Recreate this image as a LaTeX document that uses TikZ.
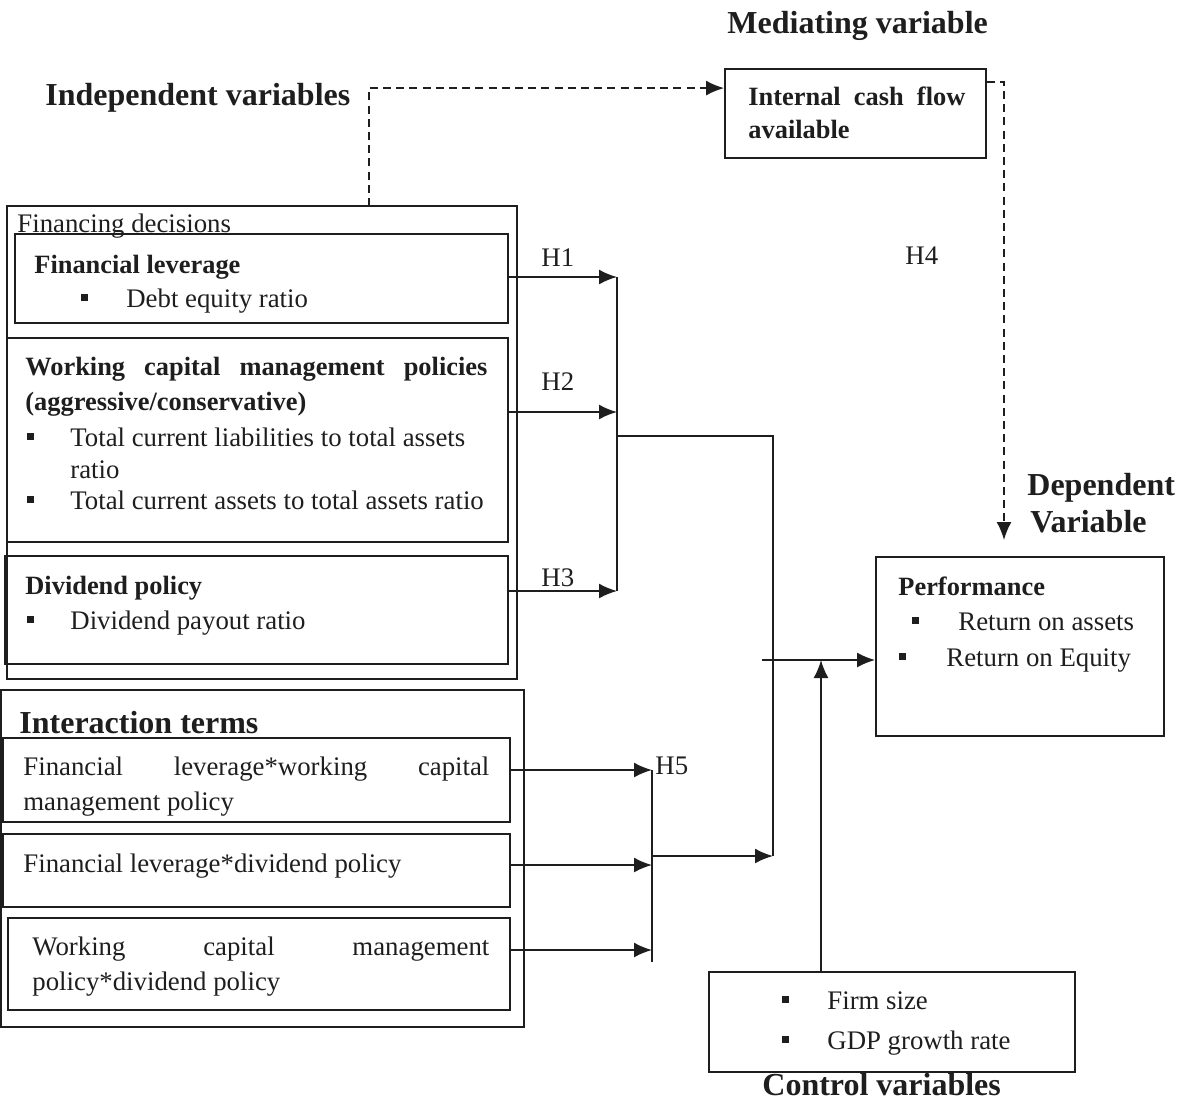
\documentclass[tikz,border=0pt]{standalone}
\usepackage{fontspec}
\setmainfont{Liberation Serif}
\usetikzlibrary{arrows.meta}
\usetikzlibrary{calc}
\usetikzlibrary{fit}
\definecolor{ink}{HTML}{1E1E1E}
\newcommand{\sqb}{\rule[3.2pt]{3.5pt}{3.5pt}}
\newcommand{\bul}[2][21.5pt]{\makebox[#1][l]{\sqb}#2}

\begin{document}
\begin{tikzpicture}[x=0.5pt, y=-0.5pt,
every node/.style = {color=ink},
box/.style = {draw=ink, line width=0.9pt, inner sep=0pt, fit={#1}},
txt/.style = {anchor=base west, inner sep=0pt, font=\fontsize{13.4}{17}\selectfont},
head/.style = {txt, font=\fontsize{13.2}{17}\selectfont\bfseries},
title/.style = {txt, font=\fontsize{16}{20}\selectfont\bfseries},
link/.style = {draw=ink, line width=0.9pt},
flow/.style = {link, -{Latex[length=9pt, width=7.5pt]}},
mediate/.style = {flow, dash pattern=on 4pt off 2.6pt}
]
\useasboundingbox (0,0) rectangle (1178,1104);

\node [title] (medt) at (727,33) {Mediating variable};
\node [title] (indt) at (45,105) {Independent variables};
\node [title] (dept) at (1027,495) {Dependent};
\node [title] (dept2) at (1030,532) {Variable};
\node [title] (ctrlt) at (762,1095) {Control variables};

\node [box={(725,69) (986,158)}] (cash) {};
\node [head] (cash1) at (748,105) {\makebox[108.5pt][s]{Internal cash flow}};
\node [head] (cash2) at (748,138) {available};

\node [box={(7,206) (517,679)}] (fin) {};
\node [txt] (fint) at (17,232) {Financing decisions};

\node [box={(15,234) (508,323)}] (fl) {};
\node [head] (flh) at (34,273) {Financial leverage};
\node [txt] (fl1) at (81,307) {\bul[22.5pt]{Debt equity ratio}};

\node [box={(7,338) (508,542)}] (wcm) {};
\node [head] (wcmh) at (25,375) {\makebox[231pt][s]{Working capital management policies}};
\node [head] (wcmh2) at (25,410) {(aggressive/conservative)};
\node [txt] (wcm1) at (27,446) {\bul{Total current liabilities to total assets}};
\node [txt] (wcm1b) at (70,478) {ratio};
\node [txt] (wcm2) at (27,509) {\bul{Total current assets to total assets ratio}};

\node [box={(5,556) (508,664)}] (div) {};
\node [head] (divh) at (25,594) {Dividend policy};
\node [txt] (div1) at (27,629) {\bul{Dividend payout ratio}};

\node [box={(1,690) (524,1027)}] (inter) {};
\node [title] (intert) at (19,733) {Interaction terms};

\node [box={(3,738) (510,822)}] (it1) {};
\node [txt] (it1a) at (23,775) {\makebox[233pt][s]{Financial leverage*working capital}};
\node [txt] (it1b) at (23,810) {management policy};

\node [box={(3,834) (510,907)}] (it2) {};
\node [txt] (it2a) at (23,872) {Financial leverage*dividend policy};

\node [box={(8,918) (510,1010)}] (it3) {};
\node [txt] (it3a) at (32,955) {\makebox[228.5pt][s]{Working capital management}};
\node [txt] (it3b) at (32,990) {policy*dividend policy};

\node [box={(876,557) (1164,736)}] (perf) {};
\node [head] (perfh) at (898,595) {Performance};
\node [txt] (perf1) at (912,630) {\bul[23pt]{Return on assets}};
\node [txt] (perf2) at (899,666) {\bul[23.5pt]{Return on Equity}};

\node [box={(709,972) (1075,1072)}] (ctrl) {};
\node [txt] (ctrl1) at (782,1009) {\bul[22.5pt]{Firm size}};
\node [txt] (ctrl2) at (782,1049) {\bul[22.5pt]{GDP growth rate}};

\node [txt] (h1) at (541,266) {H1};
\node [txt] (h2) at (541,390) {H2};
\node [txt] (h3) at (541,586) {H3};
\node [txt] (h4) at (905,264) {H4};
\node [txt] (h5) at (655,774) {H5};

\coordinate (d0) at (369,206);
\coordinate (d1) at (1004,540);
\draw [mediate] (d0) |- ($(cash.north west)!0.22!(cash.south west)$);
\draw [mediate] ($(cash.north east)!0.15!(cash.south east)$) -| (d1);

\coordinate (j1) at (617,277);
\coordinate (j2) at (617,412);
\coordinate (j3) at (617,591);
\draw [flow] (fl.east |- j1) -- (j1);
\draw [flow] (wcm.east |- j2) -- (j2);
\draw [flow] (div.east |- j3) -- (j3);
\draw [link] (j1) -- (j3);

\coordinate (k1) at (773,436);
\coordinate (k2) at (773,856);
\draw [link] (j1 |- k1) -- (k1) -- (k2);

\coordinate (i1) at (652,770);
\coordinate (i2) at (652,865);
\coordinate (i3) at (652,950);
\coordinate (ib) at (652,962);
\draw [flow] (it1.east |- i1) -- (i1);
\draw [flow] (it2.east |- i2) -- (i2);
\draw [flow] (it3.east |- i3) -- (i3);
\draw [link] (i1) -- (ib);
\draw [flow] (i1 |- k2) -- (k2);

\coordinate (p0) at (762,660);
\coordinate (c0) at (821,660);
\draw [flow] (p0) -- (perf.west |- p0);
\draw [flow] (ctrl.north -| c0) -- (c0);

\end{tikzpicture}
\end{document}
